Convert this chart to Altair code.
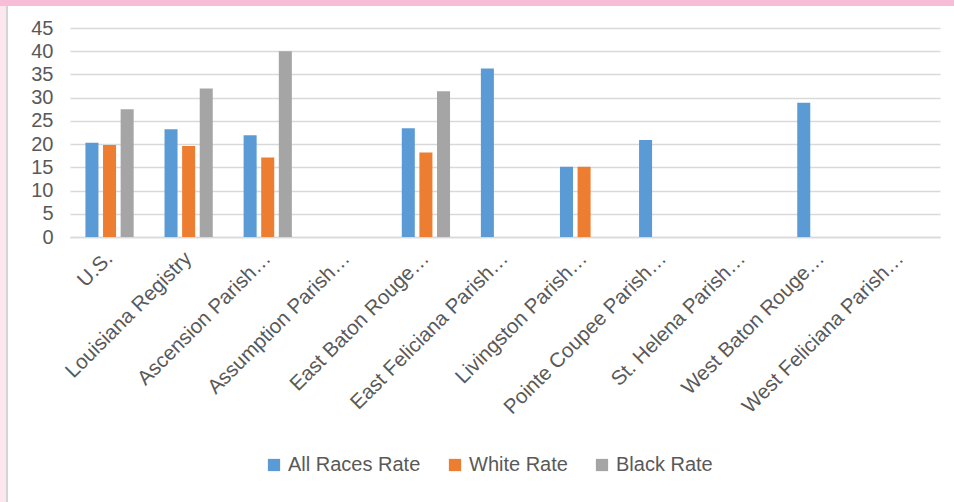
import altair as alt
import pandas as pd

# Categories (long names are shortened with an ellipsis on the axis)
categories = [
    "U.S.",
    "Louisiana Registry",
    "Ascension Parish…",
    "Assumption Parish…",
    "East Baton Rouge…",
    "East Feliciana Parish…",
    "Livingston Parish…",
    "Pointe Coupee Parish…",
    "St. Helena Parish…",
    "West Baton Rouge…",
    "West Feliciana Parish…",
]
series_names = ["All Races Rate", "White Rate", "Black Rate"]
all_races_rate = [20.3, 23.2, 21.9, None, 23.4, 36.3, 15.1, 20.9, None, 28.9, None]
white_rate = [19.8, 19.6, 17.1, None, 18.2, None, 15.1, None, None, None, None]
black_rate = [27.5, 32.0, 40.0, None, 31.4, None, None, None, None, None, None]
y_ticks = [0, 5, 10, 15, 20, 25, 30, 35, 40, 45]
series_colors = ["#5b9bd5", "#ed7d31", "#a5a5a5"]

rows = []
for name, values in zip(series_names, [all_races_rate, white_rate, black_rate]):
    for cat, v in zip(categories, values):
        if v is not None:
            rows.append({"Area": cat, "Series": name, "Rate": v})
df = pd.DataFrame(rows)

FONT = "Liberation Sans"
TEXT = "#595959"

bars = alt.Chart(df).mark_bar().encode(
    x=alt.X(
        "Area:N",
        sort=categories,
        scale=alt.Scale(domain=categories, paddingInner=0.39, paddingOuter=0.195),
        axis=alt.Axis(
            title=None,
            labelAngle=-45,
            labelAlign="right",
            labelBaseline="middle",
            labelPadding=18,
            labelFontSize=20.5,
            labelColor=TEXT,
            labelFont=FONT,
            labelLimit=400,
            ticks=False,
            domainColor="#d9d9d9",
            domainWidth=1.3,
            grid=False,
        ),
    ),
    xOffset=alt.XOffset(
        "Series:N",
        sort=series_names,
        scale=alt.Scale(domain=series_names, paddingInner=0.26, paddingOuter=0),
    ),
    y=alt.Y(
        "Rate:Q",
        scale=alt.Scale(domain=[0, 45], nice=False),
        axis=alt.Axis(
            title=None,
            values=y_ticks,
            labelFontSize=20,
            labelColor=TEXT,
            labelFont=FONT,
            labelPadding=17,
            ticks=False,
            domain=False,
            gridColor="#d9d9d9",
            gridWidth=1.3,
        ),
    ),
    color=alt.Color(
        "Series:N",
        sort=series_names,
        scale=alt.Scale(domain=series_names, range=series_colors),
        legend=alt.Legend(
            title=None,
            orient="none",
            direction="horizontal",
            legendX=194,
            legendY=427,
            symbolType="square",
            symbolSize=150,
            symbolStrokeWidth=0,
            labelFontSize=20,
            labelColor=TEXT,
            labelFont=FONT,
            labelOffset=4,
            columnPadding=24,
        ),
    ),
)

# Frame decoration: pink band on top, pale strip and grey rule on the left
top_band = alt.Chart().mark_rect(color="#f7bdd7").encode(
    x=alt.value(-70), x2=alt.value(884), y=alt.value(-28), y2=alt.value(-22)
)
left_strip = alt.Chart().mark_rect(color="#fde7ef").encode(
    x=alt.value(-70), x2=alt.value(-64), y=alt.value(-22), y2=alt.value(474)
)
left_rule = alt.Chart().mark_rect(color="#d4d4d4").encode(
    x=alt.value(-64), x2=alt.value(-62), y=alt.value(-22), y2=alt.value(474)
)

chart = alt.layer(bars, top_band, left_strip, left_rule).properties(
    width=870,
    height=209,
    autosize=alt.AutoSizeParams(type="none"),
    padding={"left": 70, "top": 28, "right": 14, "bottom": 265},
    background="white",
).configure_view(stroke=None)

chart.save("out.html", embed_options={"renderer": "svg", "actions": False})
